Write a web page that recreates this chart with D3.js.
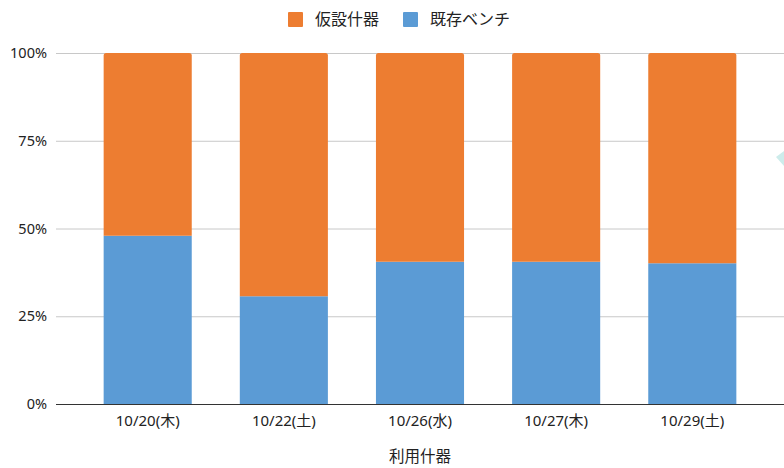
<!DOCTYPE html>
<meta charset="utf-8">
<html>

<head>
    <title>利用什器</title>
    <style>
        body { margin: 0; background: #fff; }
        text { font-family: "Noto Sans", "Noto Sans CJK JP", sans-serif; fill: #222; }
    </style>
</head>

<body>
    <div id="container"></div>

    <script src="https://d3js.org/d3.v7.min.js"></script>

    <script>
        // data (share of each category, %)
        const categories = ["10/20(木)", "10/22(土)", "10/26(水)", "10/27(木)", "10/29(土)"];
        const benchShare = [47.9, 30.7, 40.5, 40.5, 40.1];   // 既存ベンチ
        const tempShare = benchShare.map(v => 100 - v);    // 仮設什器 (remainder to 100%)
        const seriesNames = ["仮設什器", "既存ベンチ"];
        const seriesColors = ["#ed7d31", "#5b9bd5"];
        const yTicks = [0, 25, 50, 75, 100];
        const xTitle = "利用什器";

        const width = 784,
            height = 468,
            margin = { top: 53, right: 0, bottom: 64, left: 56 };

        const svg = d3.select("#container").append("svg")
            .attr("width", width)
            .attr("height", height);

        const x = d3.scaleBand()
            .domain(categories)
            .range([margin.left, width - margin.right])
            .paddingInner(0.353)
            .paddingOuter(0.35);

        const y = d3.scaleLinear()
            .domain([0, 100])
            .range([height - margin.bottom, margin.top]);

        // gridlines
        svg.append("g")
            .selectAll("line")
            .data(yTicks.filter(d => d > 0))
            .join("line")
            .attr("x1", margin.left)
            .attr("x2", width - margin.right)
            .attr("y1", d => y(d) + 0.5)
            .attr("y2", d => y(d) + 0.5)
            .attr("stroke", "#c8c8c8")
            .attr("stroke-width", 1);

        // y axis labels
        svg.append("g")
            .selectAll("text")
            .data(yTicks)
            .join("text")
            .attr("x", 47)
            .attr("y", d => y(d))
            .attr("dy", "0.35em")
            .attr("text-anchor", "end")
            .attr("font-size", 14.5)
            .text(d => d + "%");

        // stacked bars
        const rows = categories.map((c, i) => ({ cat: c, bench: benchShare[i], temp: tempShare[i] }));
        const stack = d3.stack().keys(["bench", "temp"])(rows);

        const r = 2.5;
        svg.append("g")
            .selectAll("g")
            .data(stack)
            .join("g")
            .attr("fill", d => d.key === "bench" ? seriesColors[1] : seriesColors[0])
            .selectAll("path")
            .data(d => d.map(s => ({ s, top: d.key === "temp" })))
            .join("path")
            .attr("d", ({ s, top }) => {
                const x0 = x(s.data.cat), x1 = x0 + x.bandwidth();
                const y0 = y(s[0]), y1 = y(s[1]);
                if (!top) return `M${x0},${y0}V${y1}H${x1}V${y0}Z`;
                return `M${x0},${y0}V${y1 + r}Q${x0},${y1} ${x0 + r},${y1}H${x1 - r}Q${x1},${y1} ${x1},${y1 + r}V${y0}Z`;
            });

        // baseline
        svg.append("line")
            .attr("x1", margin.left)
            .attr("x2", width - margin.right)
            .attr("y1", y(0) + 0.5)
            .attr("y2", y(0) + 0.5)
            .attr("stroke", "#333")
            .attr("stroke-width", 1.2);

        // x axis labels
        svg.append("g")
            .selectAll("text")
            .data(categories)
            .join("text")
            .attr("x", d => x(d) + x.bandwidth() / 2)
            .attr("y", y(0) + 22)
            .attr("text-anchor", "middle")
            .attr("font-size", 15)
            .text(d => d);

        // axis title
        svg.append("text")
            .attr("x", (margin.left + width - margin.right) / 2)
            .attr("y", 462)
            .attr("text-anchor", "middle")
            .attr("font-size", 15.5)
            .text(xTitle);

        // legend
        const legendX = [288, 403];
        const legend = svg.append("g")
            .selectAll("g")
            .data(seriesNames)
            .join("g")
            .attr("transform", (d, i) => `translate(${legendX[i]},12)`);
        legend.append("rect")
            .attr("width", 15)
            .attr("height", 15)
            .attr("rx", 1)
            .attr("fill", (d, i) => seriesColors[i]);
        legend.append("text")
            .attr("x", 27)
            .attr("y", 7.5)
            .attr("dy", "0.36em")
            .attr("font-size", 16)
            .text(d => d);

        // faint teal shape cut off at the right edge
        svg.append("polygon")
            .attr("points", "776,157 784,151 784,166")
            .attr("fill", "#cdeceb");
    </script>
</body>

</html>
